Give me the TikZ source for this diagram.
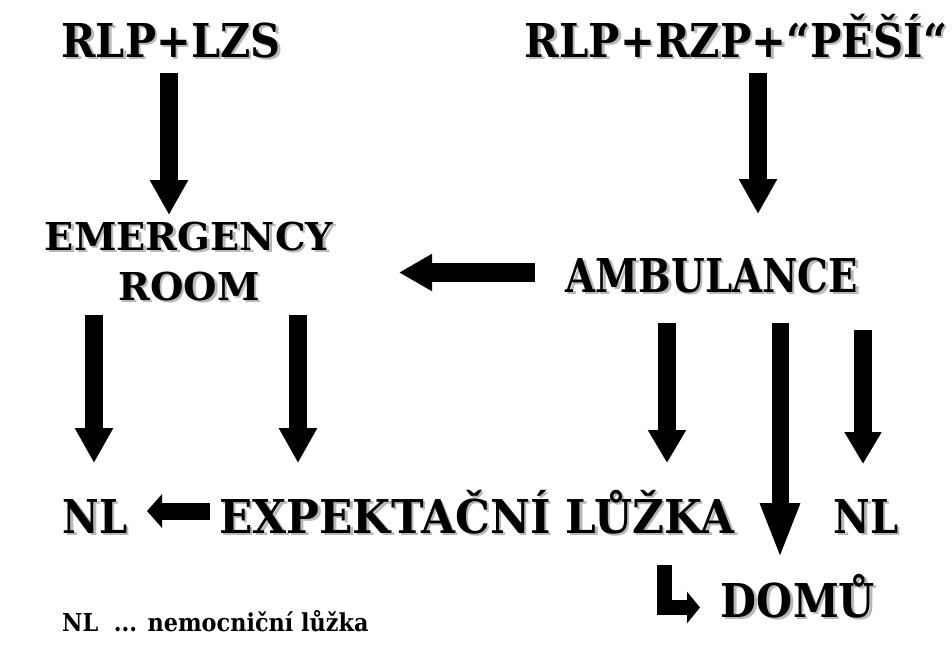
\documentclass[tikz,border=0pt]{standalone}
\usepackage{fontspec}
\usepackage{graphicx}
\setmainfont{DejaVu Serif}
\usetikzlibrary{arrows.meta}
\definecolor{shadowgray}{gray}{0.72}
% label with a grey drop shadow: [style]{name}{x}{y}{text}
\newcommand{\shadownode}[5][]{%
  \node[lbl,#1,text=shadowgray] at ({#3+2.5},{#4+2.5}) {#5};
  \node[lbl,#1] (#2) at (#3,#4) {#5};}
\newcommand{\narrow}[2]{\scalebox{#1}[1]{#2}}

\begin{document}
\begin{tikzpicture}[x=1pt,y=-1pt,
    lbl/.style={inner sep=0pt,anchor=base,font=\bfseries\fontsize{46.6}{50}\selectfont},
    small lbl/.style={font=\bfseries\fontsize{38.4}{50}\selectfont,align=center},
    block/.style={line width=18pt,-{Triangle[length=35pt,width=36pt]}}
  ]
  \useasboundingbox (0,0) rectangle (952,649);
  \shadownode{lzs}{171}{57}{\narrow{0.89}{RLP+LZS}}
  \shadownode{pesi}{736}{57}{\narrow{0.895}{RLP+RZP+“PĚŠÍ“}}
  \shadownode[small lbl]{er}{189}{300}{EMERGENCY\\ROOM}
  \shadownode{amb}{712}{292}{\narrow{0.83}{AMBULANCE}}
  \shadownode{nlleft}{95}{533}{\narrow{0.86}{NL}}
  \shadownode{expekt}{477}{533}{\narrow{0.94}{EXPEKTAČNÍ LŮŽKA}}
  \shadownode{nlright}{866}{533}{\narrow{0.86}{NL}}
  \shadownode{domu}{798}{617}{\narrow{0.89}{DOMŮ}}
  \node[inner sep=0pt,anchor=base west,font=\bfseries\fontsize{24.7}{28}\selectfont] (note) at (62,631) {\narrow{0.905}{NL\ \ ... nemocniční lůžka}};

  \coordinate (lzs out) at (169,73);   \coordinate (er in) at (169,215);
  \coordinate (pesi out) at (758,73);  \coordinate (amb in) at (758,214);
  \coordinate (amb left) at (535,272.5); \coordinate (er right) at (399,272.5);
  \coordinate (er out1) at (94,315);   \coordinate (nl in) at (94,463);
  \coordinate (er out2) at (298,315);  \coordinate (expekt in1) at (298,463);
  \coordinate (amb out1) at (667,323); \coordinate (expekt in2) at (667,463);
  \coordinate (amb out2) at (780,323); \coordinate (domu in) at (780,559);
  \coordinate (amb out3) at (863,330); \coordinate (nlright in) at (863,464);
  \coordinate (expekt left) at (210,511); \coordinate (nlleft in) at (147,511);
  \coordinate (domu top) at (664,565); \coordinate (domu end) at (700,607.5);

  \draw[block] (lzs out) -- (er in);
  \draw[block] (pesi out) -- (amb in);
  \draw[block,line width=19pt,-{Triangle[length=33pt,width=35pt]}] (amb left) -- (er right);
  \draw[block] (er out1) -- (nl in);
  \draw[block] (er out2) -- (expekt in1);
  \draw[block,-{Triangle[length=33pt,width=36pt]}] (amb out1) -- (expekt in2);
  \draw[block,line width=17pt,-{Triangle[length=56pt,width=36pt]}] (amb out2) -- (domu in);
  \draw[block,-{Triangle[length=32pt,width=35pt]}] (amb out3) -- (nlright in);
  \draw[block,line width=17pt,-{Triangle[length=15pt,width=33pt]}] (expekt left) -- (nlleft in);
  \draw[block,line width=15pt,line join=miter,-{Triangle[length=13pt,width=31pt]}] (domu top) |- (domu end);
\end{tikzpicture}
\end{document}
